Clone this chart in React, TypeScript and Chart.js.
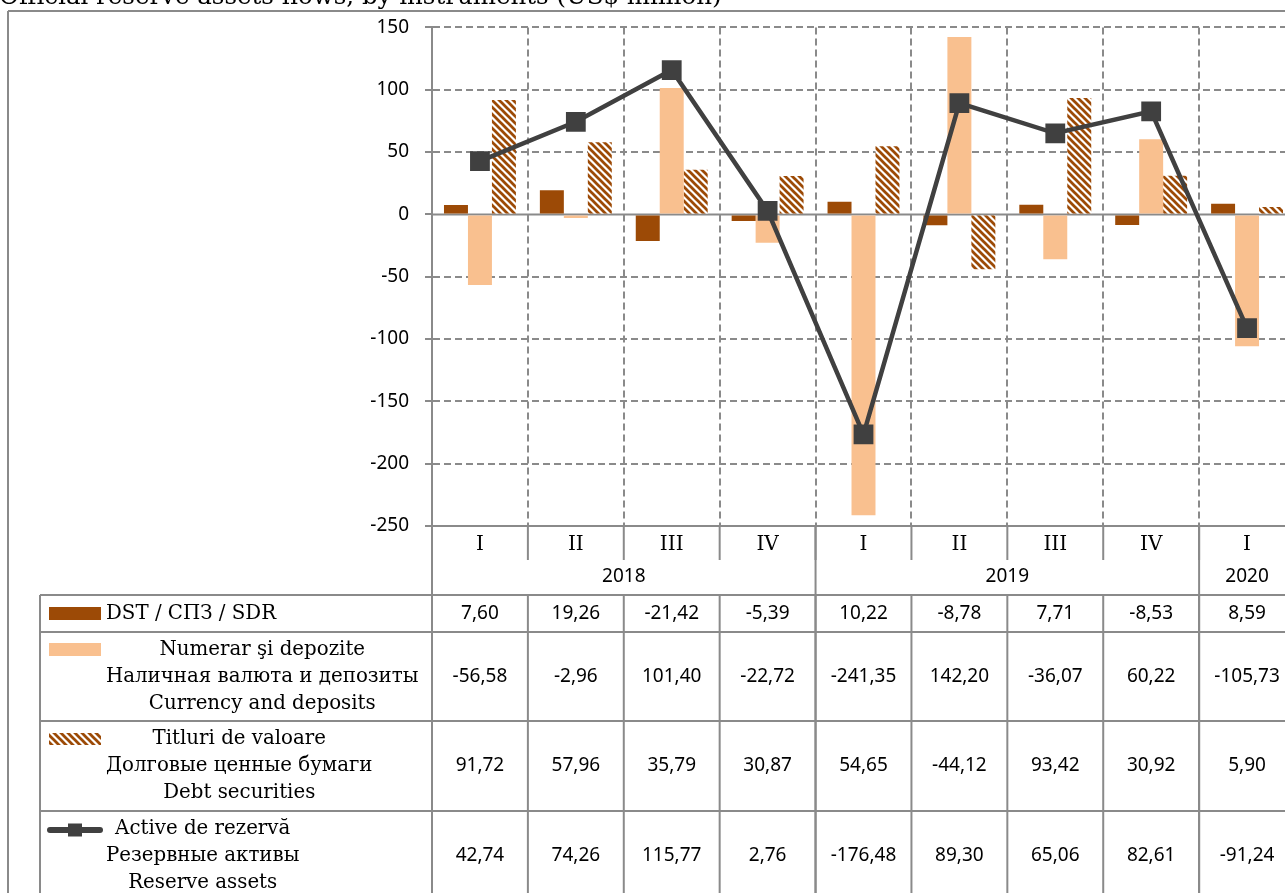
import React, { useEffect, useRef } from "react";
import { Chart, registerables } from "chart.js";

Chart.register(...registerables);

const quarterLabels = ["I", "II", "III", "IV", "I", "II", "III", "IV", "I"];
const yearLabels = ["2018", "2019", "2020"];
const yearSpans = [4, 4, 1];

const sdrValues = [7.6, 19.26, -21.42, -5.39, 10.22, -8.78, 7.71, -8.53, 8.59];
const currencyValues = [-56.58, -2.96, 101.4, -22.72, -241.35, 142.2, -36.07, 60.22, -105.73];
const debtValues = [91.72, 57.96, 35.79, 30.87, 54.65, -44.12, 93.42, 30.92, 5.9];
const reserveValues = [42.74, 74.26, 115.77, 2.76, -176.48, 89.3, 65.06, 82.61, -91.24];

const sdrLabel = ["DST / СПЗ / SDR"];
const currencyLabel = ["Numerar şi depozite", "Наличная валюта и депозиты", "Currency and deposits"];
const debtLabel = ["Titluri de valoare", "Долговые ценные бумаги", "Debt securities"];
const reserveLabel = ["Active de rezervă", "Резервные активы", "Reserve assets"];

const titleText = "Official reserve assets flows, by instruments (US$ million)";

const yMin = -250;
const yMax = 150;
const yStep = 50;

const W = 1310;
const H = 910;
const GRAY = "#8a8a8a";
const BROWN = "#9c4a06";
const PEACH = "#f9c08f";
const LINE = "#404040";
const SERIF = "'DejaVu Serif', serif";
const SANS = "'Noto Sans', sans-serif";

function makeHatch(): CanvasPattern | string {
  const c = document.createElement("canvas");
  const p = 7;
  c.width = p;
  c.height = p;
  const g = c.getContext("2d");
  if (!g) return BROWN;
  g.fillStyle = "#ffffff";
  g.fillRect(0, 0, p, p);
  g.strokeStyle = BROWN;
  g.lineWidth = 2.7;
  for (const x0 of [-p, 0, p]) {
    g.beginPath();
    g.moveTo(x0 - 1, -1);
    g.lineTo(x0 + p + 1, p + 1);
    g.stroke();
  }
  const pat = g.createPattern(c, "repeat");
  return pat || BROWN;
}

const fmt = (v: number) => v.toFixed(2).replace(".", ",");

export default function App() {
  const ref = useRef<HTMLCanvasElement | null>(null);

  useEffect(() => {
    const canvas = ref.current;
    if (!canvas) return;
    const hatch = makeHatch();

    const tablePlugin = {
      id: "tablePlugin",
      beforeDatasetsDraw(chart: any) {
        const { ctx, chartArea } = chart;
        const y = chart.scales.y.getPixelForValue(0);
        ctx.save();
        ctx.strokeStyle = GRAY;
        ctx.lineWidth = 2;
        ctx.beginPath();
        ctx.moveTo(chartArea.left, y);
        ctx.lineTo(chartArea.right, y);
        ctx.stroke();
        ctx.restore();
      },
      afterDraw(chart: any) {
        const { ctx, chartArea } = chart;
        const xs = chart.scales.x;
        const n = quarterLabels.length;
        const half = (xs.getPixelForValue(1) - xs.getPixelForValue(0)) / 2;
        const bound = (i: number) => xs.getPixelForValue(i) - half;
        const top = chartArea.bottom; // 526
        const qBottom = top + 34; // 560
        const yBottom = 595;
        const rows = [595, 632, 721, 811, 901];
        const tableLeft = 40;

        ctx.save();
        ctx.strokeStyle = GRAY;
        ctx.lineWidth = 2;
        const line = (x1: number, y1: number, x2: number, y2: number) => {
          ctx.beginPath();
          ctx.moveTo(x1, y1);
          ctx.lineTo(x2, y2);
          ctx.stroke();
        };
        // frame
        line(8, 11, W, 11);
        line(8, 11, 8, H);
        // bottom axis line
        line(chartArea.left, top, chartArea.right, top);
        // quarter separators
        for (let i = 0; i <= n; i++) line(bound(i), top, bound(i), qBottom);
        // year separators
        let acc = 0;
        const yearBounds = [0];
        yearSpans.forEach((s) => {
          acc += s;
          yearBounds.push(acc);
        });
        yearBounds.forEach((b) => line(bound(b), top, bound(b), H));
        // value rows separators
        for (let i = 0; i <= n; i++) line(bound(i), yBottom, bound(i), H);
        rows.forEach((ry) => line(tableLeft, ry, W, ry));
        line(tableLeft, yBottom, tableLeft, H);

        // quarter labels
        ctx.fillStyle = "#000";
        ctx.textAlign = "center";
        ctx.textBaseline = "middle";
        ctx.font = `20px ${SERIF}`;
        quarterLabels.forEach((q, i) => ctx.fillText(q, xs.getPixelForValue(i), top + 19));
        // year labels
        ctx.font = `19px ${SANS}`;
        yearLabels.forEach((yl, k) => {
          const cx = (bound(yearBounds[k]) + bound(yearBounds[k + 1])) / 2;
          ctx.fillText(yl, cx, 577);
        });

        // values
        const series = [sdrValues, currencyValues, debtValues, reserveValues];
        series.forEach((vals, r) => {
          const cy = (rows[r] + rows[r + 1]) / 2;
          vals.forEach((v, i) => ctx.fillText(fmt(v), xs.getPixelForValue(i), cy));
        });

        // legend labels
        const labels = [sdrLabel, currencyLabel, debtLabel, reserveLabel];
        const textLeft = 106;
        const lh = 27;
        const keyCenters: number[] = [];
        labels.forEach((lines, r) => {
          const cy = (rows[r] + rows[r + 1]) / 2;
          ctx.font = `19.8px ${SERIF}`;
          const maxW = Math.max(...lines.map((l) => ctx.measureText(l).width));
          const cx = textLeft + maxW / 2;
          lines.forEach((l, k) => {
            const ly = cy + (k - (lines.length - 1) / 2) * lh;
            ctx.fillText(l, cx, ly);
          });
          keyCenters.push(cy - ((lines.length - 1) / 2) * lh);
        });

        // legend keys
        ctx.fillStyle = BROWN;
        ctx.fillRect(49, keyCenters[0] - 6.5, 52, 13);
        ctx.fillStyle = PEACH;
        ctx.fillRect(49, keyCenters[1] - 6.5, 52, 13);
        ctx.fillStyle = hatch as any;
        ctx.fillRect(49, keyCenters[2] - 6, 52, 12);
        ctx.strokeStyle = LINE;
        ctx.lineWidth = 6;
        ctx.lineCap = "round";
        line(50, keyCenters[3] + 1, 100, keyCenters[3] + 1);
        ctx.fillStyle = LINE;
        ctx.fillRect(68, keyCenters[3] - 5.5, 14, 13);

        // title (cropped at top)
        ctx.textAlign = "left";
        ctx.textBaseline = "alphabetic";
        ctx.font = `24.5px ${SERIF}`;
        ctx.fillStyle = "#000";
        ctx.fillText(titleText, -1, 4);
        ctx.restore();
      },
    };

    const chart = new Chart(canvas, {
      type: "bar",
      data: {
        labels: quarterLabels,
        datasets: [
          {
            type: "bar",
            label: sdrLabel.join(" "),
            data: sdrValues,
            backgroundColor: BROWN,
            order: 1,
            categoryPercentage: 0.75,
            barPercentage: 1,
          },
          {
            type: "bar",
            label: currencyLabel.join(" "),
            data: currencyValues,
            backgroundColor: PEACH,
            order: 1,
            categoryPercentage: 0.75,
            barPercentage: 1,
          },
          {
            type: "bar",
            label: debtLabel.join(" "),
            data: debtValues,
            backgroundColor: hatch as any,
            order: 1,
            categoryPercentage: 0.75,
            barPercentage: 1,
          },
          {
            type: "line",
            label: reserveLabel.join(" "),
            data: reserveValues,
            borderColor: LINE,
            borderWidth: 4.5,
            pointStyle: "rect",
            pointRadius: 14,
            pointBackgroundColor: LINE,
            pointBorderColor: LINE,
            pointBorderWidth: 0,
            tension: 0,
            order: 0,
          } as any,
        ],
      },
      options: {
        responsive: false,
        animation: false,
        events: [],
        layout: { padding: { top: 24, right: 15, left: 0, bottom: 0 } },
        plugins: { legend: { display: false }, tooltip: { enabled: false }, title: { display: false } },
        scales: {
          x: {
            type: "category",
            offset: true,
            afterFit: (s: any) => {
              s.height = H - 526;
            },
            ticks: { display: false },
            grid: {
              offset: true,
              color: GRAY,
              lineWidth: 2,
              drawTicks: false,
            },
            border: { display: false, dash: [7, 4] },
          },
          y: {
            min: yMin,
            max: yMax,
            afterFit: (s: any) => {
              s.width = 432;
            },
            ticks: {
              stepSize: yStep,
              padding: 16,
              color: "#000",
              font: { family: "'Noto Sans', sans-serif", size: 19 },
              callback: (v: any) => String(v),
            },
            grid: {
              color: (c: any) => (c.tick && c.tick.value === 0 ? "rgba(0,0,0,0)" : GRAY),
              lineWidth: 2,
              tickLength: 7,
              tickColor: GRAY,
              tickBorderDash: [],
            },
            border: { display: true, color: GRAY, width: 2, dash: [7, 4] },
          },
        },
      },
      plugins: [tablePlugin],
    });

    return () => chart.destroy();
  }, []);

  return (
    <div
      style={{
        position: "fixed",
        left: 0,
        top: 0,
        width: 1285,
        height: 893,
        overflow: "hidden",
        background: "#fff",
      }}
    >
      <canvas ref={ref} width={W} height={H} style={{ display: "block", width: W, height: H }} />
    </div>
  );
}
